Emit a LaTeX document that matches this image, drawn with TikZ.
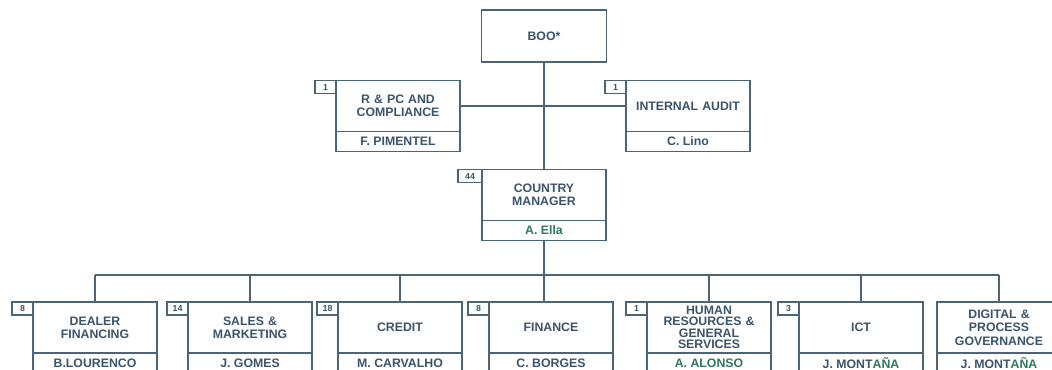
\documentclass[tikz,border=0pt]{standalone}
\usepackage{fontspec}
\setmainfont{Liberation Sans}
\usetikzlibrary{positioning}
\definecolor{orgline}{HTML}{4C6479}
\definecolor{orgtext}{HTML}{3A546C}
\definecolor{orggreen}{HTML}{2E7A58}
\tikzset{
  unit/.style={draw=orgline,line width=1pt,outer sep=0pt,minimum width=2.48cm,minimum height=1.02cm,
    text width=2.3cm,align=center,inner sep=0.5pt,text=orgtext,font=\bfseries\fontsize{7}{7.6}\selectfont},
  head/.style={draw=orgline,line width=1pt,outer sep=0pt,minimum width=2.48cm,minimum height=0.4cm,
    inner sep=0.5pt,text=orgtext,font=\bfseries\fontsize{7}{7.6}\selectfont},
  staff/.style={draw=orgline,line width=1pt,outer sep=0pt,minimum width=0.42cm,minimum height=0.26cm,
    inner sep=0.5pt,text=orgtext,font=\bfseries\fontsize{5}{5}\selectfont},
  link/.style={draw=orgline,line width=1pt}
}
\begin{document}
\begin{tikzpicture}[x=0.02cm,y=-0.02cm]
	\useasboundingbox (0,0) rectangle (1052,369);
	\clip (0,0) rectangle (1052,369);
	% top of the chart
	\node[unit,minimum width=2.5cm,minimum height=1.04cm] (boo) at (544,36) {BOO*};
	\node[unit] (rpc) at (398,106) {R \& PC AND\\COMPLIANCE};
	\node[head,below=0pt of rpc] (rpcname) {F. PIMENTEL};
	\node[staff,anchor=north east] (rpcn) at (rpc.north west) {1};
	\node[unit] (ia) at (688,106) {INTERNAL AUDIT};
	\node[head,below=0pt of ia] (ianame) {C. Lino};
	\node[staff,anchor=north east] (ian) at (ia.north west) {1};
	\node[unit] (cm) at (544,195) {COUNTRY\\MANAGER};
	\node[head,below=0pt of cm,text=orggreen] (cmname) {A. Ella};
	\node[staff,anchor=north east,minimum width=0.48cm] (cmn) at (cm.north west) {44};
	% departments
	\node[unit] (dealer) at (95,327.5) {DEALER\\FINANCING};
	\node[head,below=0pt of dealer] (dealername) {B.LOURENCO};
	\node[staff,anchor=north east] (dealern) at (dealer.north west) {8};
	\node[unit] (sales) at (250,327.5) {SALES \&\\MARKETING};
	\node[head,below=0pt of sales] (salesname) {J. GOMES};
	\node[staff,anchor=north east] (salesn) at (sales.north west) {14};
	\node[unit] (credit) at (400,327.5) {CREDIT};
	\node[head,below=0pt of credit] (creditname) {M. CARVALHO};
	\node[staff,anchor=north east] (creditn) at (credit.north west) {18};
	\node[unit] (finance) at (551,327.5) {FINANCE};
	\node[head,below=0pt of finance] (financename) {C. BORGES};
	\node[staff,anchor=north east] (financen) at (finance.north west) {8};
	\node[unit,font=\bfseries\fontsize{7}{6.5}\selectfont] (hr) at (709,327.5) {HUMAN\\RESOURCES \&\\GENERAL\\SERVICES};
	\node[head,below=0pt of hr,text=orggreen] (hrname) {A. ALONSO};
	\node[staff,anchor=north east] (hrn) at (hr.north west) {1};
	\node[unit] (ict) at (861,327.5) {ICT};
	\node[head,below=0pt of ict] (ictname) {J. MONT\textcolor{orggreen}{AÑA}};
	\node[staff,anchor=north east] (ictn) at (ict.north west) {3};
	\node[unit] (digital) at (999,327.5) {DIGITAL \&\\PROCESS\\GOVERNANCE};
	\node[head,below=0pt of digital] (digitalname) {J. MONT\textcolor{orggreen}{AÑA}};
	% lines
	\coordinate (bus) at (0,275);
	\draw[link] (boo) -- (cm);
	\draw[link] (rpc) -- (ia);
	\draw[link] (cmname.south) -- (cmname.south |- finance.north);
	\draw[link] (dealer.north |- bus) -- (digital.north |- bus);
	\foreach \u in {dealer,sales,credit,hr,ict,digital}
		\draw[link] (\u.north) -- (\u.north |- bus);
\end{tikzpicture}
\end{document}
